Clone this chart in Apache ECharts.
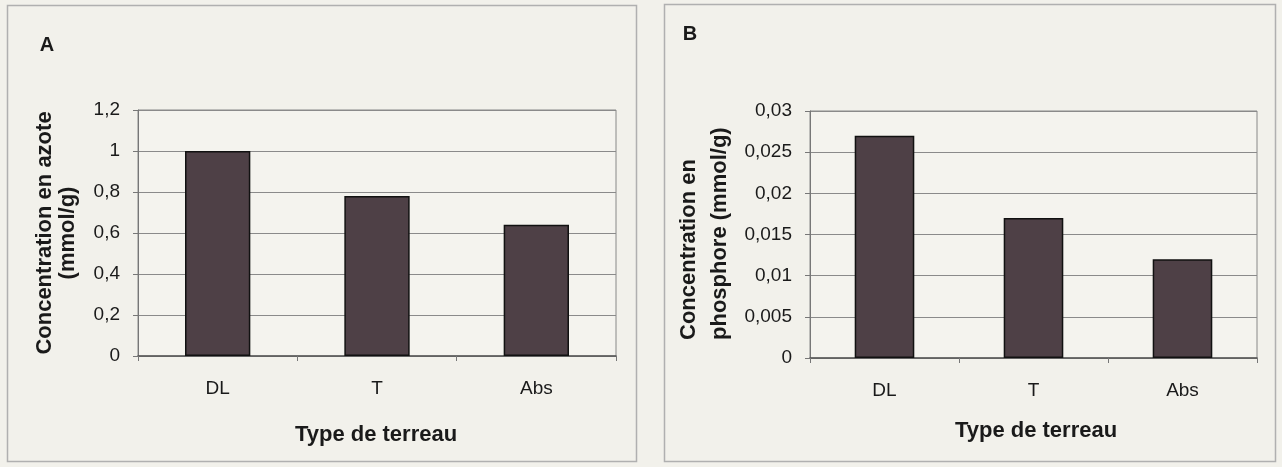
<!DOCTYPE html>
<html>
<head>
<meta charset="utf-8">
<script src="https://cdn.jsdelivr.net/npm/echarts@6/dist/echarts.min.js"></script>
<style>
html,body{margin:0;padding:0;background:#f2f1eb;}
#c{width:1282px;height:467px;}
</style>
</head>
<body>
<div id="c"></div>
<script>
// Data
const categories = ['DL', 'T', 'Abs'];
const azoteValues = [1.0, 0.78, 0.64];
const phosphoreValues = [0.027, 0.017, 0.012];
const yLabelsA = ['0', '0,2', '0,4', '0,6', '0,8', '1', '1,2'];
const yLabelsB = ['0', '0,005', '0,01', '0,015', '0,02', '0,025', '0,03'];

const FONT = '"Liberation Sans", Arial, sans-serif';
const TXT = '#1a1a1a';
const barColor = '#4e4046';

const chart = echarts.init(document.getElementById('c'), null, {renderer: 'canvas'});

function yAxis(gridIndex, max, interval, labels) {
  return {
    type: 'value', gridIndex, min: 0, max, interval,
    axisLine: {show: true, lineStyle: {color: '#777', width: 1}},
    axisTick: {show: true, length: 5, lineStyle: {color: '#777'}},
    splitLine: {show: true, lineStyle: {color: '#8a8a8a', width: 1}},
    axisLabel: {
      margin: 18, color: TXT, fontFamily: FONT, fontSize: 19,
      formatter: v => labels[Math.round(v / interval)]
    }
  };
}
function xAxis(gridIndex) {
  return {
    type: 'category', gridIndex, data: categories,
    axisLine: {show: true, lineStyle: {color: '#555', width: 1.5}},
    axisTick: {show: true, length: 5, lineStyle: {color: '#777'}},
    axisLabel: {margin: 23, color: TXT, fontFamily: FONT, fontSize: 19}
  };
}

chart.setOption({
  backgroundColor: '#f2f1eb',
  animation: false,
  grid: [
    {left: 138, top: 110, width: 478, height: 246, show: true, borderColor: '#888', borderWidth: 1, backgroundColor: '#f4f3ee'},
    {left: 810, top: 111, width: 447, height: 247, show: true, borderColor: '#888', borderWidth: 1, backgroundColor: '#f4f3ee'}
  ],
  xAxis: [xAxis(0), xAxis(1)],
  yAxis: [yAxis(0, 1.2, 0.2, yLabelsA), yAxis(1, 0.03, 0.005, yLabelsB)],
  series: [
    {type: 'bar', xAxisIndex: 0, yAxisIndex: 0, data: azoteValues, barWidth: '41%',
     itemStyle: {color: barColor, borderColor: '#111', borderWidth: 1.5}},
    {type: 'bar', xAxisIndex: 1, yAxisIndex: 1, data: phosphoreValues, barWidth: '40%',
     itemStyle: {color: barColor, borderColor: '#111', borderWidth: 1.5}}
  ],
  graphic: [
    {type: 'rect', z: -1, shape: {x: 7.5, y: 5.5, width: 629, height: 456},
     style: {fill: 'none', stroke: '#b0b0b0', lineWidth: 1.5}},
    {type: 'rect', z: -1, shape: {x: 664.5, y: 4.5, width: 611, height: 457},
     style: {fill: 'none', stroke: '#b0b0b0', lineWidth: 1.5}},
    {type: 'text', x: 47, y: 45, style: {text: 'A', font: 'bold 20px ' + FONT, fill: TXT, textAlign: 'center', textVerticalAlign: 'middle'}},
    {type: 'text', x: 690, y: 34, style: {text: 'B', font: 'bold 20px ' + FONT, fill: TXT, textAlign: 'center', textVerticalAlign: 'middle'}},
    {type: 'text', x: 376, y: 435, style: {text: 'Type de terreau', font: 'bold 22px ' + FONT, fill: TXT, textAlign: 'center', textVerticalAlign: 'middle'}},
    {type: 'text', x: 1036, y: 431, style: {text: 'Type de terreau', font: 'bold 22px ' + FONT, fill: TXT, textAlign: 'center', textVerticalAlign: 'middle'}},
    {type: 'text', x: 56, y: 233, rotation: Math.PI / 2,
     style: {text: 'Concentration en azote\n(mmol/g)', font: 'bold 22px ' + FONT, lineHeight: 23, fill: TXT, textAlign: 'center', textVerticalAlign: 'middle'}},
    {type: 'text', x: 704, y: 340, rotation: Math.PI / 2,
     style: {text: 'Concentration en\nphosphore (mmol/g)', font: 'bold 22px ' + FONT, lineHeight: 31, fill: TXT, textAlign: 'left', textVerticalAlign: 'middle'}}
  ]
});
</script>
</body>
</html>
